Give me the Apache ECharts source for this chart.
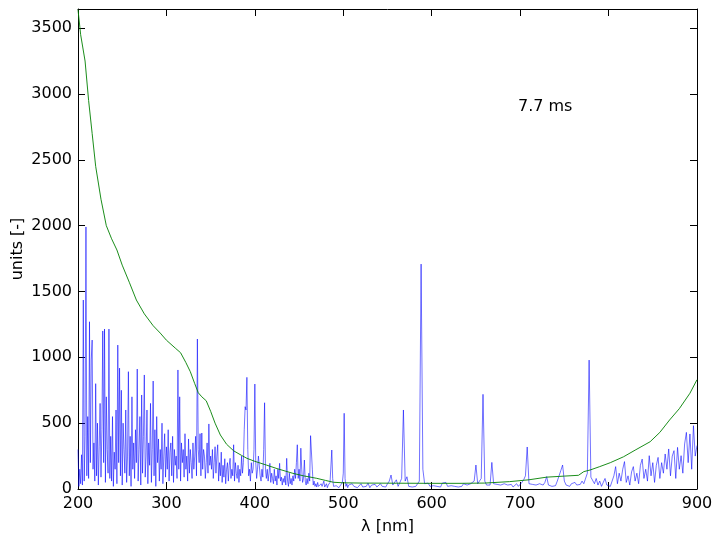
<!DOCTYPE html>
<html>
<head>
<meta charset="utf-8">
<script src="https://cdn.jsdelivr.net/npm/echarts@6/dist/echarts.min.js"></script>
<style>html,body{margin:0;padding:0;background:#fff}#c{width:723px;height:546px}</style>
</head>
<body>
<div id="c"></div>
<script>
// Blue spectrum, 200-349 nm, 1 nm grid
const uvStart = 200, uvStep = 1;
const uvValues = [
  300, 20, 150, 40, 260, 30, 1435, 60, 400, 1990,
  100, 550, 80, 1270, 200, 980, 1131, 150, 350, 60,
  800, 100, 500, 30, 320, 650, 90, 450, 1200, 200,
  1215, 50, 700, 300, 120, 1215, 80, 400, 60, 550,
  20, 280, 150, 600, 40, 1093, 200, 918, 100, 750,
  30, 500, 300, 120, 600, 50, 250, 891, 100, 400,
  20, 700, 150, 350, 80, 450, 200, 911, 60, 300,
  550, 30, 714, 120, 400, 866, 90, 250, 600, 40,
  350, 180, 650, 50, 300, 820, 100, 450, 20, 550,
  200, 380, 60, 300, 150, 500, 40, 250, 420, 90,
  320, 150, 450, 60, 280, 350, 100, 400, 50, 300,
  180, 250, 80, 904, 150, 700, 60, 350, 200, 300,
  90, 420, 150, 250, 60, 380, 120, 300, 200, 80,
  350, 150, 250, 400, 100, 1139, 300, 200, 420, 100,
  425, 150, 300, 250, 80, 200, 350, 120, 494, 180
];
// Blue spectrum, 350-505 nm, 1 nm grid
const visStart = 350, visStep = 1;
const visValues = [
  250, 150, 300, 80, 200, 321, 120, 250, 336, 60,
  200, 100, 280, 50, 180, 90, 230, 40, 150, 200,
  60, 180, 233, 80, 150, 100, 336, 60, 200, 120,
  80, 180, 50, 150, 100, 250, 120, 200, 450, 625,
  600, 848, 300, 100, 150, 60, 200, 120, 150, 300,
  797, 200, 80, 150, 250, 180, 100, 60, 150, 90,
  300, 655, 150, 80, 150, 60, 120, 195, 50, 120,
  80, 40, 150, 60, 100, 30, 150, 80, 195, 60,
  90, 30, 80, 50, 100, 30, 233, 60, 20, 120,
  40, 80, 30, 100, 60, 150, 80, 200, 336, 80,
  150, 60, 310, 150, 50, 80, 220, 60, 30, 80,
  40, 120, 60, 405, 390, 150, 30, 60, 20, 40,
  15, 50, 20, 30, 10, 40, 20, 30, 60, 15,
  25, 40, 10, 30, 20, 50, 60, 296, 80, 20,
  30, 10, 25, 15, 40, 10, 20, 30, 15, 50,
  120, 575, 80, 20, 40, 10
];
// Blue spectrum, 506-900 nm, 2 nm grid
const redStart = 506, redStep = 2;
const redValues = [
  30, 15, 40, 20, 35, 10, 25, 40, 15, 30,
  20, 45, 10, 30, 20, 35, 15, 25, 40, 20,
  30, 15, 40, 60, 106, 30, 40, 70, 20, 30,
  80, 600, 60, 93, 20, 30, 15, 25, 20, 30,
  60, 1708, 150, 40, 30, 45, 20, 35, 25, 40,
  20, 30, 15, 45, 30, 50, 20, 35, 25, 40,
  20, 35, 15, 30, 20, 40, 25, 30, 15, 40,
  30, 60, 182, 40, 30, 80, 719, 60, 30, 40,
  30, 202, 40, 25, 35, 20, 30, 15, 40, 25,
  30, 20, 35, 15, 30, 40, 20, 30, 50, 70,
  100, 319, 40, 25, 35, 20, 30, 15, 40, 25,
  30, 50, 94, 30, 40, 20, 35, 25, 60, 100,
  140, 182, 60, 30, 45, 20, 40, 25, 50, 30,
  45, 35, 60, 40, 30, 120, 979, 90, 100, 40,
  80, 30, 60, 20, 50, 80, 30, 40, 20, 60,
  100, 170, 40, 120, 60, 150, 208, 50, 100, 30,
  130, 170, 60, 120, 40, 180, 227, 80, 150, 60,
  253, 100, 200, 50, 180, 240, 80, 200, 120, 266,
  150, 304, 100, 250, 291, 80, 316, 150, 253, 120,
  342, 430, 200, 418, 150, 481, 250, 330
];
// Green reference curve: wavelength / value
const greenX = [200, 203, 208, 212, 216, 220, 226, 232, 238, 244, 250, 258, 266, 275, 285, 293, 300, 310, 316, 322, 327, 332, 336, 340, 345, 350, 355, 361, 368, 376, 385, 391, 400, 413, 425, 435, 443, 455, 470, 480, 489, 500, 520, 560, 600, 632, 660, 688, 710, 730, 750, 766, 772, 779, 790, 802, 817, 830, 847, 858, 869, 880, 892, 900];
const greenY = [3640, 3450, 3250, 2950, 2700, 2450, 2200, 2000, 1900, 1815, 1700, 1570, 1435, 1330, 1240, 1184, 1130, 1070, 1035, 960, 891, 800, 731, 700, 670, 590, 500, 410, 340, 290, 255, 233, 210, 182, 155, 135, 119, 100, 81, 65, 51, 47, 45, 44, 43, 43, 45, 56, 70, 90, 98, 104, 132, 144, 170, 200, 245, 295, 359, 430, 524, 610, 727, 830];
const xTicks = [200, 300, 400, 500, 600, 700, 800, 900];
const yTicks = [0, 500, 1000, 1500, 2000, 2500, 3000, 3500];
const annotation = '7.7 ms';

function seg(start, step, vals) { return vals.map((v, i) => [start + i * step, v]); }
const blue = [].concat(seg(uvStart, uvStep, uvValues), seg(visStart, visStep, visValues), seg(redStart, redStep, redValues));
const green = greenX.map((x, i) => [x, greenY[i]]);

const font = 'DejaVu Sans';
const axisBase = {
  axisLine: { show: true, onZero: false, lineStyle: { color: '#000', width: 1 } },
  axisTick: { show: true, inside: true, length: 7, lineStyle: { color: '#000', width: 1 } },
  splitLine: { show: false }
};
const chart = echarts.init(document.getElementById('c'), null, { renderer: 'canvas' });
chart.setOption({
  animation: false,
  backgroundColor: '#fff',
  grid: { left: 78, right: 26, top: 9, bottom: 57, containLabel: false, outerBoundsMode: 'none' },
  xAxis: [
    Object.assign({}, axisBase, {
      type: 'value', min: 200, max: 900, interval: 100, position: 'bottom',
      name: 'λ [nm]', nameLocation: 'middle', nameGap: 30, nameMoveOverlap: false,
      nameTextStyle: { fontFamily: font, fontSize: 16, color: '#000' },
      axisLabel: { fontFamily: font, fontSize: 16, color: '#000', margin: 7,
        formatter: v => xTicks.includes(v) ? String(v) : '' }
    }),
    Object.assign({}, axisBase, {
      type: 'value', min: 200, max: 900, interval: 100, position: 'top',
      axisLabel: { show: false }
    })
  ],
  yAxis: [
    Object.assign({}, axisBase, {
      type: 'value', min: 0, max: 3645, interval: 500, position: 'left',
      name: 'units [-]', nameLocation: 'middle', nameGap: 52, nameMoveOverlap: false,
      nameTextStyle: { fontFamily: font, fontSize: 16, color: '#000' },
      axisLabel: { fontFamily: font, fontSize: 16, color: '#000', margin: 6, showMaxLabel: false,
        formatter: v => yTicks.includes(v) ? String(v) : '' }
    }),
    Object.assign({}, axisBase, {
      type: 'value', min: 0, max: 3645, interval: 500, position: 'right',
      axisLabel: { show: false }
    })
  ],
  graphic: [{
    type: 'text', left: 518, top: 99,
    style: { text: annotation, fontFamily: font, fontSize: 16, fill: '#000' }
  }],
  series: [
    {
      type: 'line', data: blue, showSymbol: false, symbol: 'none',
      lineStyle: { color: '#0000ff', width: 0.8, opacity: 0.7 }, z: 2
    },
    {
      type: 'line', data: green, showSymbol: false, symbol: 'none', smooth: false,
      lineStyle: { color: '#008000', width: 0.9 }, z: 3
    }
  ]
});
</script>
</body>
</html>
